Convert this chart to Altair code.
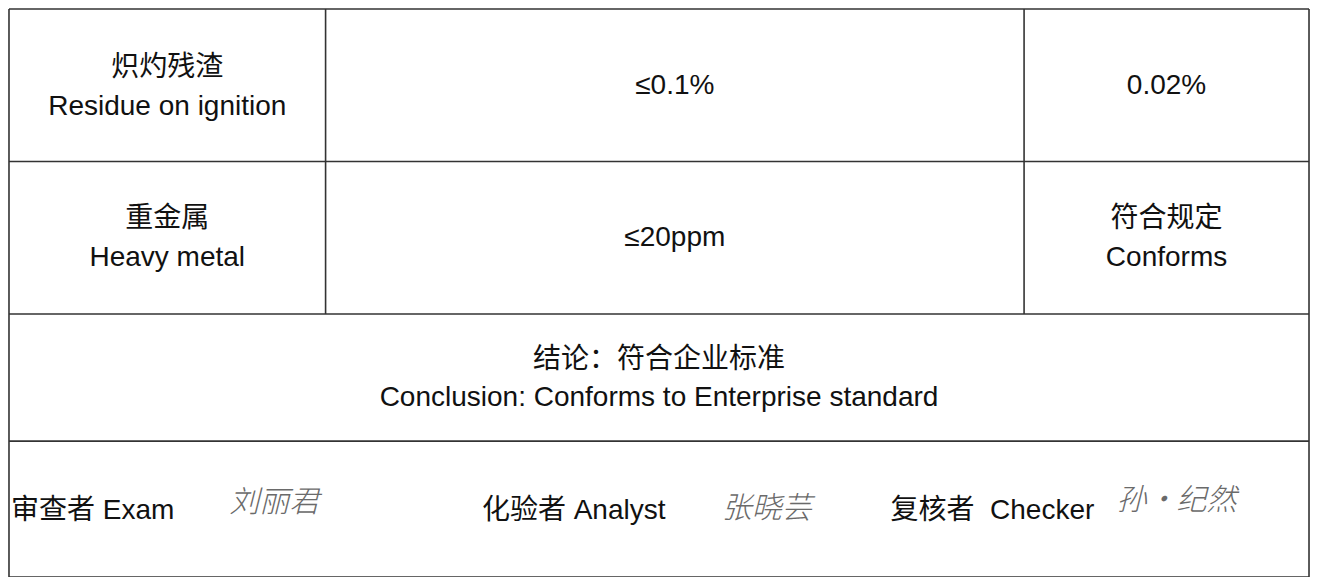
import altair as alt
import pandas as pd

# ---- table layout (reference pixel grid) ----
col_edges = [2, 322, 1028, 1316]
row_edges = [3, 159, 315, 445, 584]

# ---- cell texts ----
row1_texts = ["炽灼残渣", "Residue on ignition", "≤0.1%", "0.02%"]
row2_texts = ["重金属", "Heavy metal", "≤20ppm", "符合规定", "Conforms"]
row3_texts = ["结论：符合企业标准", "Conclusion: Conforms to Enterprise standard"]
row4_texts = ["审查者 Exam", "化验者 Analyst", "复核者\u00a0 Checker"]
signatures = ["刘丽君", "张晓芸", "孙·纪然"]

# text anchors (x, y) in reference pixels
row1_pos = [(162, 63), (162, 103), (675, 82), (1172, 82)]
row2_pos = [(162, 218), (162, 258), (675, 237), (1172, 218), (1172, 258)]
row3_pos = [(659, 362), (659, 401)]
row4_pos = [(4, 517), (480, 517), (893, 517)]
sig_pos = [(270, 508), (768, 514), (1182, 506)]

W, H = 1302, 569
xs = alt.Scale(domain=[1, 1317], range=[0, W])
ys = alt.Scale(domain=[2, 584], range=[0, H])

# grid lines
lines = []
for y in row_edges:
    lines.append({"x": col_edges[0], "x2": col_edges[-1], "y": y, "y2": y})
for x in (col_edges[0], col_edges[-1]):
    lines.append({"x": x, "x2": x, "y": row_edges[0], "y2": row_edges[-1]})
for x in col_edges[1:-1]:
    lines.append({"x": x, "x2": x, "y": row_edges[0], "y2": row_edges[2]})
lines_df = pd.DataFrame(lines)

center_rows = []
for texts, pos in ((row1_texts, row1_pos), (row2_texts, row2_pos), (row3_texts, row3_pos)):
    for t, (x, y) in zip(texts, pos):
        center_rows.append({"text": t, "x": x, "y": y})
center_df = pd.DataFrame(center_rows)
left_df = pd.DataFrame([{"text": t, "x": x, "y": y} for t, (x, y) in zip(row4_texts, row4_pos)])
sig_df = pd.DataFrame([{"text": t, "x": x, "y": y} for t, (x, y) in zip(signatures, sig_pos)])

FONT = "Liberation Sans, Arial, Noto Sans CJK SC"

rules = alt.Chart(lines_df).mark_rule(color="#333333", strokeWidth=1.6).encode(
    x=alt.X("x:Q", scale=xs, axis=None),
    x2="x2:Q",
    y=alt.Y("y:Q", scale=ys, axis=None),
    y2="y2:Q",
)

center_text = alt.Chart(center_df).mark_text(
    font=FONT, fontSize=28, color="#111", align="center", baseline="middle"
).encode(
    x=alt.X("x:Q", scale=xs, axis=None),
    y=alt.Y("y:Q", scale=ys, axis=None),
    text="text:N",
)

left_text = alt.Chart(left_df).mark_text(
    font=FONT, fontSize=28, color="#111", align="left", baseline="middle"
).encode(
    x=alt.X("x:Q", scale=xs, axis=None),
    y=alt.Y("y:Q", scale=ys, axis=None),
    text="text:N",
)

sig_text = alt.Chart(sig_df).mark_text(
    font="Noto Sans CJK SC", fontSize=30, fontWeight=300, fontStyle="italic",
    color="#6a6a6a", align="center", baseline="middle"
).encode(
    x=alt.X("x:Q", scale=xs, axis=None),
    y=alt.Y("y:Q", scale=ys, axis=None),
    text="text:N",
)

chart = alt.layer(rules, center_text, left_text, sig_text).properties(
    width=W, height=H, padding=0,
    autosize=alt.AutoSizeParams(type="fit", contains="padding"),
    background="white",
).configure_view(strokeWidth=0)

chart.save("out.html", embed_options={"renderer": "svg", "actions": False})
